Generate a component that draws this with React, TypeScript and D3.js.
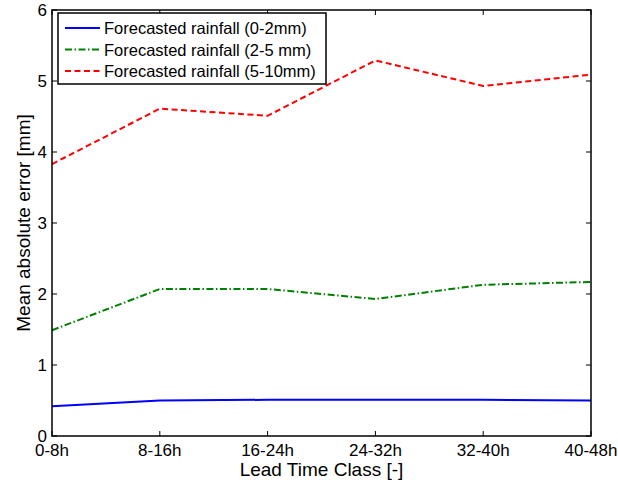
import { useEffect, useRef } from 'react'
import * as d3 from 'd3'

const classes = ['0-8h', '8-16h', '16-24h', '24-32h', '32-40h', '40-48h']
const rainLow = [0.42, 0.50, 0.51, 0.51, 0.51, 0.50]
const rainMid = [1.49, 2.07, 2.07, 1.93, 2.13, 2.17]
const rainHigh = [3.83, 4.61, 4.51, 5.29, 4.93, 5.09]
const yTicks = [0, 1, 2, 3, 4, 5, 6]

const series = [
  { name: 'Forecasted rainfall (0-2mm)', values: rainLow, color: '#0000ff', dash: null },
  { name: 'Forecasted rainfall (2-5 mm)', values: rainMid, color: '#008000', dash: '7,2.5,1.5,2.5' },
  { name: 'Forecasted rainfall (5-10mm)', values: rainHigh, color: '#ff0000', dash: '6,3.5' }
]

export default function App() {
  const svgRef = useRef<SVGSVGElement>(null)

  useEffect(() => {
    const svg = d3.select(svgRef.current)
    svg.selectAll('*').remove()

    const left = 52, right = 591, top = 10, bottom = 436
    const x = d3.scaleLinear([0, classes.length - 1], [left, right])
    const y = d3.scaleLinear([0, 6], [bottom, top])
    const font = 'Liberation Sans, Arial, sans-serif'

    svg.append('rect')
      .attr('width', 618).attr('height', 483).attr('fill', 'white')

    // lines
    const line = d3.line<number>().x((_, i) => x(i)).y(d => y(d))
    series.forEach(s => {
      svg.append('path')
        .datum(s.values)
        .attr('d', line)
        .attr('fill', 'none')
        .attr('stroke', s.color)
        .attr('stroke-width', 2)
        .attr('stroke-dasharray', s.dash)
    })

    // inward ticks on all four sides
    const ticks = svg.append('g').attr('stroke', 'black').attr('stroke-width', 1)
    classes.forEach((_, i) => {
      ticks.append('line').attr('x1', x(i)).attr('x2', x(i)).attr('y1', bottom).attr('y2', bottom - 5)
      ticks.append('line').attr('x1', x(i)).attr('x2', x(i)).attr('y1', top).attr('y2', top + 5)
    })
    yTicks.forEach(t => {
      ticks.append('line').attr('x1', left).attr('x2', left + 5).attr('y1', y(t)).attr('y2', y(t))
      ticks.append('line').attr('x1', right).attr('x2', right - 5).attr('y1', y(t)).attr('y2', y(t))
    })

    // box
    svg.append('rect')
      .attr('x', left).attr('y', top)
      .attr('width', right - left).attr('height', bottom - top)
      .attr('fill', 'none').attr('stroke', 'black').attr('stroke-width', 1.5)

    // tick labels
    svg.append('g').selectAll('text')
      .data(classes)
      .join('text')
      .attr('x', (_, i) => x(i))
      .attr('y', bottom + 20)
      .attr('text-anchor', 'middle')
      .attr('font-family', font)
      .attr('font-size', 17)
      .text(d => d)

    svg.append('g').selectAll('text')
      .data(yTicks)
      .join('text')
      .attr('x', left - 5)
      .attr('y', d => y(d) + 6)
      .attr('text-anchor', 'end')
      .attr('font-family', font)
      .attr('font-size', 17)
      .text(d => d)

    // axis titles
    svg.append('text')
      .attr('x', (left + right) / 2)
      .attr('y', 476)
      .attr('text-anchor', 'middle')
      .attr('font-family', font)
      .attr('font-size', 19)
      .text('Lead Time Class [-]')

    svg.append('text')
      .attr('transform', `translate(30,${(top + bottom) / 2}) rotate(-90)`)
      .attr('text-anchor', 'middle')
      .attr('font-family', font)
      .attr('font-size', 19)
      .text('Mean absolute error [mm]')

    // legend
    const lg = svg.append('g').attr('transform', 'translate(58,13)')
    lg.append('rect')
      .attr('width', 268).attr('height', 71)
      .attr('fill', 'white').attr('stroke', 'black').attr('stroke-width', 1.5)
    series.forEach((s, i) => {
      const ly = 15 + i * 21.5
      lg.append('line')
        .attr('x1', 7).attr('x2', 42).attr('y1', ly).attr('y2', ly)
        .attr('stroke', s.color).attr('stroke-width', 2)
        .attr('stroke-dasharray', s.dash)
      lg.append('text')
        .attr('x', 46).attr('y', ly + 6)
        .attr('font-family', font)
        .attr('font-size', 16.5)
        .text(s.name)
    })
  }, [])

  return (
    <svg ref={svgRef} width={618} height={483}
      style={{ position: 'absolute', left: 0, top: 0 }} />
  )
}
